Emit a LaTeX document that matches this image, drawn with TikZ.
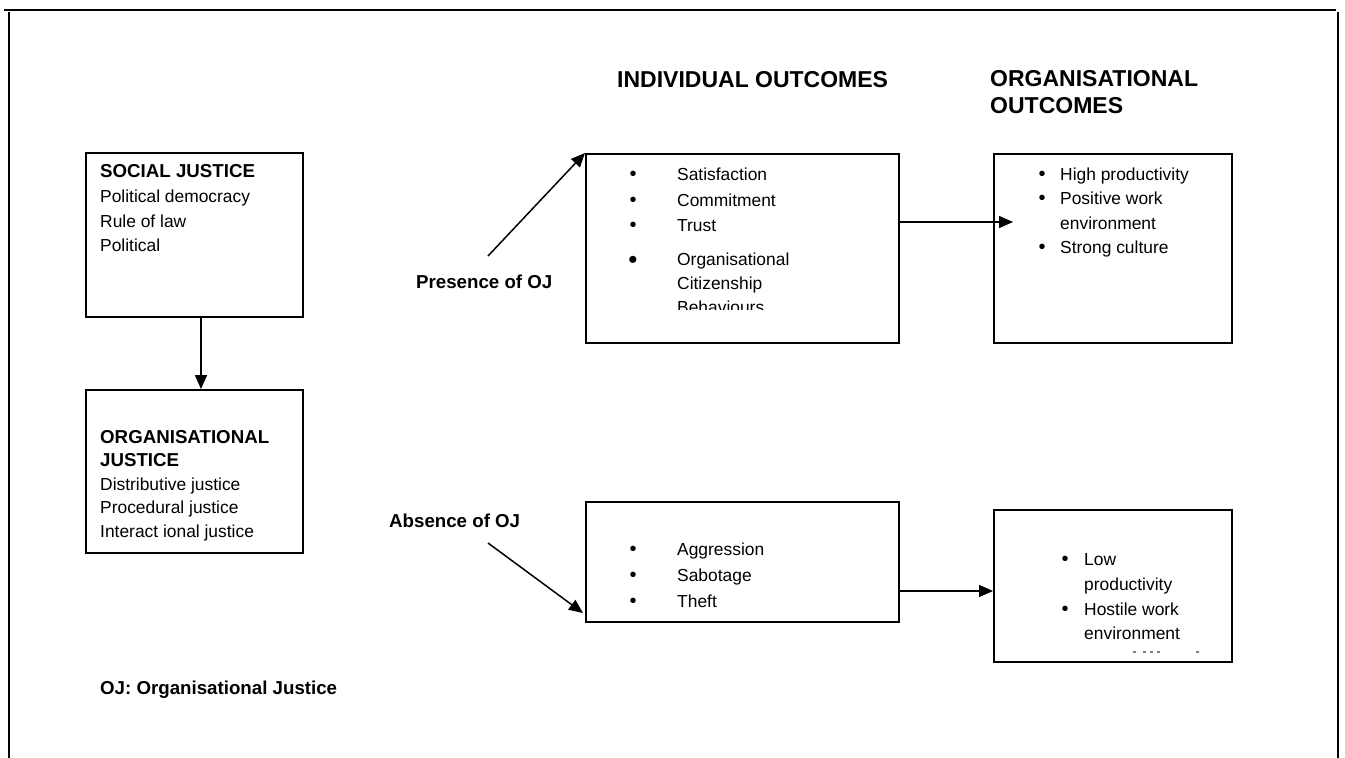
\documentclass[tikz,border=0pt]{standalone}
\usepackage{fontspec}
\setmainfont{Liberation Sans}
\usetikzlibrary{arrows.meta}
\begin{document}
\begin{tikzpicture}[x=1pt,y=-1pt,
  box/.style={draw,line width=2pt,minimum width=#1,inner sep=0pt,anchor=north west},
  body/.style={font=\fontsize{17.4}{24}\selectfont,anchor=base west,inner sep=0pt},
  label/.style={font=\fontsize{18.7}{24}\selectfont\bfseries,anchor=base west,inner sep=0pt},
  head/.style={font=\fontsize{23}{27}\selectfont\bfseries,anchor=base west,inner sep=0pt,align=left},
  bul/.style={font=\fontsize{20}{24}\selectfont,anchor=base,inner sep=0pt},
  link/.style={line width=1.5pt,-{Triangle[length=14pt,width=12pt]}}]
\useasboundingbox (0,0) rectangle (1345,758);
\fill[white] (0,0) rectangle (1345,758);

% page frame
\draw[line width=2.5pt] (4,10) -- (1336,10);
\draw[line width=2pt] (9,12) -- (9,758);
\draw[line width=2pt] (1338,12) -- (1338,758);

% column headings
\node[head] (hind) at (617,87) {INDIVIDUAL OUTCOMES};
\node[head] (horg) at (990,113) {ORGANISATIONAL\\OUTCOMES};

% justice boxes
\node[box=217pt,minimum height=164pt] (sj) at (85,152) {};
\node[label] (sjt) at (100,177) {SOCIAL JUSTICE};
\node[body] (sj1) at (100,202) {Political democracy};
\node[body] (sj2) at (100,227) {Rule of law};
\node[body] (sj3) at (100,251) {Political};

\node[box=217pt,minimum height=163pt] (oj) at (85,389) {};
\node[label] (ojt1) at (100,443) {ORGANISATIONAL};
\node[label] (ojt2) at (100,466) {JUSTICE};
\node[body] (oj1) at (100,490) {Distributive justice};
\node[body] (oj2) at (100,513) {Procedural justice};
\node[body] (oj3) at (100,537) {Interact ional justice};

\draw[link] (sj.south -| 201,0) -- (oj.north -| 201,0);

% presence of OJ
\node[box=313pt,minimum height=189pt] (ip) at (585,153) {};
\node[bul] (b1) at (633,180) {\textbullet};
\node[body] (ip1) at (677,180) {Satisfaction};
\node[bul] (b2) at (633,206) {\textbullet};
\node[body] (ip2) at (677,206) {Commitment};
\node[bul] (b3) at (633,231) {\textbullet};
\node[body] (ip3) at (677,231) {Trust};
\node[bul,font=\fontsize{26}{26}\selectfont] (b4) at (633,268) {\textbullet};
\node[body] (ip4) at (677,265) {Organisational};
\node[body] (ip5) at (677,289) {Citizenship};
\begin{scope}
  \clip (600,150) rectangle (890,309);
  \node[body] (ip6) at (677,313) {Behaviours};
\end{scope}

\node[box=238pt,minimum height=189pt] (op) at (993,153) {};
\node[bul] (c1) at (1042,180) {\textbullet};
\node[body] (op1) at (1060,180) {High productivity};
\node[bul] (c2) at (1042,204) {\textbullet};
\node[body] (op2) at (1060,204) {Positive work};
\node[body] (op3) at (1060,229) {environment};
\node[bul] (c4) at (1042,253) {\textbullet};
\node[body] (op4) at (1060,253) {Strong culture};

\coordinate (pstart) at (488,256);
\node[label] (pres) at (416,288) {Presence of OJ};
\draw[link] (pstart) -- (ip.north west -| 585,160);
\draw[link] (ip.east |- 0,222) -- (1013,222);

% absence of OJ
\node[label] (abs) at (389,527) {Absence of OJ};
\node[box=313pt,minimum height=120pt] (ia) at (585,501) {};
\node[bul] (d1) at (633,555) {\textbullet};
\node[body] (ia1) at (677,555) {Aggression};
\node[bul] (d2) at (633,581) {\textbullet};
\node[body] (ia2) at (677,581) {Sabotage};
\node[bul] (d3) at (633,607) {\textbullet};
\node[body] (ia3) at (677,607) {Theft};

\node[box=238pt,minimum height=152pt] (oa) at (993,509) {};
\node[bul] (e1) at (1065,565) {\textbullet};
\node[body] (oa1) at (1084,565) {Low};
\node[body] (oa2) at (1084,590) {productivity};
\node[bul] (e2) at (1065,615) {\textbullet};
\node[body] (oa3) at (1084,615) {Hostile work};
\node[body] (oa4) at (1084,639) {environment};
% cut-off line at the foot of the box
\foreach \px in {1133,1143,1150,1157,1196}
  \draw[line width=1.2pt,gray] (\px,652) -- (\px+2.5,652);

\coordinate (astart) at (488,543);
\coordinate (aend) at (583,613);
\draw[link] (astart) -- (aend);
\draw[link] (ia.east |- 0,591) -- (oa.west |- 0,591);

% key
\node[label] (key) at (100,694) {OJ: Organisational Justice};
\end{tikzpicture}
\end{document}
